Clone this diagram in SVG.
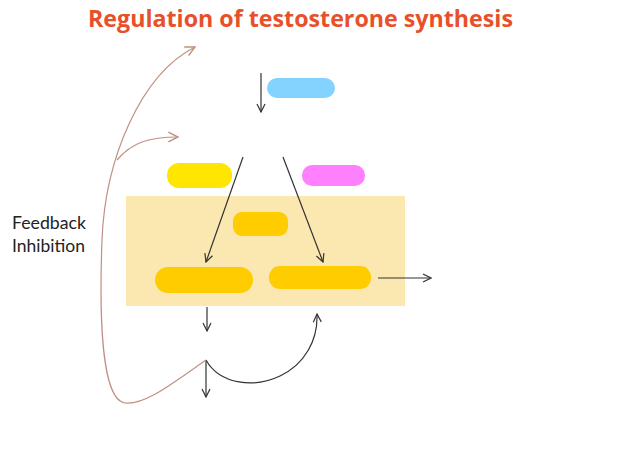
<svg xmlns="http://www.w3.org/2000/svg" width="630" height="471" viewBox="0 0 630 471">
<defs>
<marker id="ah" viewBox="0 0 10 10" refX="9" refY="5" markerWidth="10" markerHeight="10" markerUnits="userSpaceOnUse" orient="auto">
<path d="M1,1 L9,5 L1,9" fill="none" stroke="#333" stroke-width="1.2"/>
</marker>
<marker id="ahb" viewBox="0 0 10 10" refX="9" refY="5" markerWidth="12" markerHeight="12" markerUnits="userSpaceOnUse" orient="auto">
<path d="M1,1 L9,5 L1,9" fill="none" stroke="#C09080" stroke-width="1.2"/>
</marker>
</defs>
<style>
.title{font-family:"Open Sans","Liberation Sans",sans-serif;font-weight:bold;font-size:23px;fill:#E8502A}
.lbl{font-family:"Lato","Liberation Sans",sans-serif;font-size:17px;fill:#222}
.c{fill:none;stroke:#333;stroke-width:1.2}
.fb{fill:none;stroke:#C09080;stroke-width:1.2}
</style>
<rect width="630" height="471" fill="#fff"/>
<text class="title" x="88" y="27" textLength="425" lengthAdjust="spacingAndGlyphs">Regulation of testosterone synthesis</text>
<g id="region"><rect x="126" y="196" width="279" height="110" fill="#FBE8B0"/></g>
<g id="blue"><rect x="267" y="78" width="68" height="20" rx="10" fill="#84D3FF"/></g>
<g id="yellow"><rect x="167" y="163" width="65" height="25" rx="12" fill="#FFE600"/></g>
<g id="pink"><rect x="302" y="165" width="63" height="21" rx="10" fill="#FF80FF"/></g>
<g id="gold-top"><rect x="233" y="212" width="55" height="24" rx="9" fill="#FFCC00"/></g>
<g id="gold-left"><rect x="155" y="267" width="98" height="26" rx="13" fill="#FFCC00"/></g>
<g id="gold-right"><rect x="269" y="266" width="102" height="23" rx="11" fill="#FFCC00"/></g>
<g id="feedback"><text class="lbl" x="12" y="229" textLength="74" lengthAdjust="spacingAndGlyphs">Feedback</text><text class="lbl" x="12" y="252" textLength="73" lengthAdjust="spacingAndGlyphs">Inhibition</text></g>
<g id="connectors">
<line class="c" x1="261" y1="73" x2="261" y2="112" marker-end="url(#ah)"/>
<line class="c" x1="243" y1="157" x2="206" y2="262" marker-end="url(#ah)"/>
<line class="c" x1="283" y1="157" x2="323" y2="262" marker-end="url(#ah)"/>
<line class="c" x1="378" y1="278" x2="431" y2="278" marker-end="url(#ah)"/>
<line class="c" x1="207" y1="307" x2="207" y2="331" marker-end="url(#ah)"/>
<line class="c" x1="206" y1="360" x2="206" y2="397" marker-end="url(#ah)"/>
<path class="c" d="M206,360 C220,385 255,388 280,376 C305,364 318,340 317,314" marker-end="url(#ah)"/>
<path class="fb" d="M206,360 C170,385 145,405 125,403 C102,400 99,320 102,240 C105,160 140,75 195,47" marker-end="url(#ahb)"/>
<path class="fb" d="M117,160 C132,142 150,137 178,137" marker-end="url(#ahb)"/>
</g>
</svg>
